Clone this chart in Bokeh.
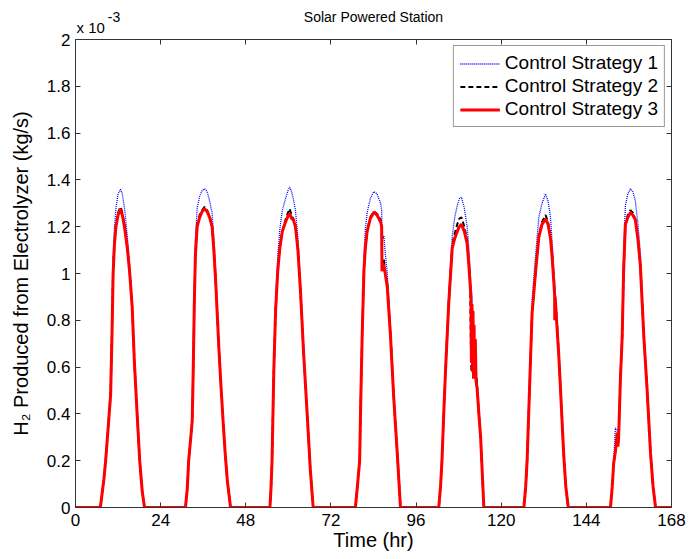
from bokeh.plotting import figure
from bokeh.models import (ColumnDataSource, LinearAxis, FixedTicker, Title,
                          Legend, LegendItem, Range1d)
from bokeh.embed import file_html
from bokeh.resources import INLINE

# ---------------- data (values in units of 1e-3 kg/s) ----------------
time_hr = [0,
    7.0, 8.0, 8.5, 9.3, 9.9, 10.3, 10.6, 11.0, 11.4, 12.0, 12.7, 13.2, 13.9, 14.6, 15.3, 16.0, 16.6, 17.3, 18.1, 18.8, 19.45,
    31.0, 31.5, 31.9, 32.5, 32.9, 33.2, 33.5, 33.8, 34.3, 35.0, 35.7, 36.4, 37.1, 37.8, 38.5, 39.0, 39.5, 40.4, 41.0, 41.6, 42.2, 42.8, 43.7,
    54.8, 55.1, 55.4, 55.9, 56.4, 57.0, 57.6, 58.3, 59.2, 59.9, 60.4, 60.9, 61.4, 62.0, 62.7, 63.4, 64.3, 65.3, 66.2, 67.0,
    78.9, 79.4, 80.1, 80.4, 80.8, 81.3, 81.7, 82.2, 83.1, 84.1, 85.0, 86.0, 86.3, 86.4, 86.9, 87.3, 87.9, 88.8, 89.7, 90.7, 91.6,
    102.4, 102.9, 103.3, 103.8, 104.3, 105.2, 106.2, 106.9, 107.6, 108.2, 108.8, 109.6, 110.4, 110.9, 111.3, 111.45, 111.6, 111.75, 111.9, 112.05, 112.2, 112.35, 112.5, 112.7, 112.9, 113.2, 113.7, 114.2, 115.1,
    126.4, 126.9, 127.3, 127.7, 128.1, 128.7, 129.7, 130.6, 131.5, 132.5, 133.2, 133.9, 134.4, 134.8, 135.05, 135.1, 135.2, 135.6, 136.2, 136.7, 137.6, 138.2, 138.9,
    150.8, 151.3, 151.7, 152.2, 152.7, 152.9, 153.1, 153.6, 154.1, 154.5, 155.0, 155.7, 156.4, 157.1, 157.8, 158.5, 159.2, 160.2, 161.1, 162.1, 162.8, 163.5,
    168]

strategy1 = [0,
    0, .13, .21, .38, .52, .80, 1.07, 1.20, 1.28, 1.34, 1.36, 1.34, 1.27, 1.16, 1.03, .87, .63, .43, .21, .07, 0,
    0, .08, .21, .31, .39, .64, .93, 1.15, 1.28, 1.33, 1.355, 1.362, 1.35, 1.31, 1.26, 1.15, 1.01, .70, .53, .38, .23, .115, 0,
    0, .08, .21, .60, .88, 1.07, 1.19, 1.27, 1.32, 1.355, 1.369, 1.35, 1.32, 1.27, 1.15, .96, .67, .41, .16, 0,
    0, .08, .21, .47, .77, 1.07, 1.19, 1.26, 1.32, 1.35, 1.34, 1.30, 1.27, 1.14, 1.16, 1.09, 1.00, .77, .49, .24, 0,
    0, .09, .21, .42, .61, .91, 1.16, 1.24, 1.29, 1.32, 1.326, 1.28, 1.20, 1.10, 1.00, .95, .93, .90, .85, .80, .75, .70, .66, .62, .58, .53, .41, .30, 0,
    0, .09, .21, .40, .59, .88, 1.08, 1.24, 1.30, 1.34, 1.31, 1.24, 1.12, 1.02, .97, .95, .93, .84, .68, .52, .23, .09, 0,
    0, .09, .20, .34, .33, .28, .31, .57, .77, 1.08, 1.29, 1.34, 1.362, 1.35, 1.31, 1.22, 1.09, .75, .52, .23, .09, 0,
    0]

strategy2 = [0,
    0, .12, .20, .36, .49, .76, 1.01, 1.14, 1.21, 1.26, 1.285, 1.26, 1.20, 1.11, 1.00, .85, .62, .42, .20, .07, 0,
    0, .08, .20, .30, .37, .60, .88, 1.08, 1.21, 1.25, 1.27, 1.285, 1.27, 1.245, 1.20, 1.10, .97, .685, .52, .37, .23, .115, 0,
    0, .08, .20, .585, .84, 1.01, 1.11, 1.18, 1.23, 1.26, 1.277, 1.245, 1.235, 1.20, 1.10, .93, .66, .40, .16, 0,
    0, .08, .20, .45, .73, 1.01, 1.11, 1.18, 1.24, 1.265, 1.255, 1.23, 1.21, 1.05, 1.06, 1.01, .95, .74, .47, .23, 0,
    0, .09, .20, .40, .585, .87, 1.12, 1.17, 1.21, 1.235, 1.24, 1.20, 1.14, 1.04, .95, .70, .58, .86, .81, .80, .72, .70, .66, .62, .58, .52, .40, .30, 0,
    0, .09, .20, .38, .56, .83, 1.01, 1.16, 1.22, 1.25, 1.22, 1.16, 1.07, .98, .92, .92, .88, .82, .66, .51, .23, .09, 0,
    0, .09, .19, .24, .30, .27, .30, .55, .73, 1.01, 1.21, 1.25, 1.27, 1.26, 1.23, 1.15, 1.04, .73, .51, .23, .09, 0,
    0]

strategy3 = [0,
    0, .12, .20, .36, .48, .75, 1.00, 1.13, 1.20, 1.25, 1.275, 1.25, 1.19, 1.11, 1.00, .85, .62, .42, .20, .07, 0,
    0, .08, .20, .30, .37, .60, .88, 1.08, 1.20, 1.24, 1.265, 1.277, 1.265, 1.24, 1.20, 1.10, .97, .685, .52, .37, .23, .115, 0,
    0, .08, .20, .585, .84, 1.01, 1.11, 1.18, 1.22, 1.245, 1.255, 1.235, 1.23, 1.20, 1.10, .93, .66, .40, .16, 0,
    0, .08, .20, .45, .73, 1.01, 1.11, 1.18, 1.235, 1.262, 1.25, 1.22, 1.20, 1.01, 1.04, 1.00, .94, .73, .47, .23, 0,
    0, .09, .20, .40, .585, .87, 1.11, 1.15, 1.18, 1.20, 1.21, 1.18, 1.127, 1.03, .94, .90, .62, .87, .58, .84, .55, .78, .56, .72, .54, .51, .40, .30, 0,
    0, .09, .20, .38, .56, .83, 1.01, 1.155, 1.21, 1.234, 1.21, 1.15, 1.06, .97, .91, .80, .90, .80, .657, .51, .23, .09, 0,
    0, .09, .19, .24, .32, .26, .30, .55, .73, 1.01, 1.21, 1.24, 1.26, 1.25, 1.23, 1.15, 1.04, .73, .51, .23, .09, 0,
    0]

series_names = ["Control Strategy 1", "Control Strategy 2", "Control Strategy 3"]
x_ticks = [0, 24, 48, 72, 96, 120, 144, 168]
y_ticks = [0, 0.2, 0.4, 0.6, 0.8, 1.0, 1.2, 1.4, 1.6, 1.8, 2.0]
y_tick_labels = ["0", "0.2", "0.4", "0.6", "0.8", "1", "1.2", "1.4", "1.6", "1.8", "2"]
title_text = "Solar Powered Station"
x_label = "Time (hr)"
y_label = "H\u2082 Produced from Electrolyzer (kg/s)"
exponent_base = "x 10"
exponent_power = "-3"

# ---------------- figure ----------------
FONT = "Liberation Sans"
AX_COLOR = "#333333"

p = figure(width=689, height=559, output_backend="svg", toolbar_location=None,
           x_range=Range1d(0, 168), y_range=Range1d(0, 2),
           min_border_left=75, min_border_right=18, min_border_top=39, min_border_bottom=52,
           x_axis_type=None, y_axis_type=None)
p.title_location = None
p.outline_line_color = None
p.background_fill_color = "white"
p.border_fill_color = "white"

src = ColumnDataSource(dict(t=time_hr, s1=strategy1, s2=strategy2, s3=strategy3))

r1 = p.line("t", "s1", source=src, line_color="#0000ff", line_width=1.3, line_dash="1 1")
r2 = p.line("t", "s2", source=src, line_color="black", line_width=2, line_dash="5 3")
r3 = p.line("t", "s3", source=src, line_color="#ff0000", line_width=3)

label_over = {v: s for v, s in zip(y_ticks, y_tick_labels)}


def style_axis(ax, show_labels):
    ax.axis_line_color = AX_COLOR
    ax.axis_line_width = 1
    ax.major_tick_line_color = AX_COLOR
    ax.major_tick_in = 5
    ax.major_tick_out = 0
    ax.minor_tick_line_color = None
    ax.major_label_text_font = FONT
    if show_labels:
        ax.major_label_text_font_size = "17px"
        ax.major_label_text_color = "black"
    else:
        ax.major_label_text_font_size = "1px"
        ax.major_label_text_color = None
        ax.major_label_standoff = 0


xb = LinearAxis(ticker=FixedTicker(ticks=x_ticks))
style_axis(xb, True)
xb.major_label_standoff = 6
xb.axis_label = x_label
xb.axis_label_text_font = FONT
xb.axis_label_text_font_size = "20px"
xb.axis_label_text_font_style = "normal"
xb.axis_label_text_color = "black"
xb.axis_label_standoff = 0
p.add_layout(xb, "below")

yl = LinearAxis(ticker=FixedTicker(ticks=y_ticks), major_label_overrides=label_over)
style_axis(yl, True)
yl.major_label_standoff = 5
yl.axis_label = y_label
yl.axis_label_text_font = FONT
yl.axis_label_text_font_size = "20px"
yl.axis_label_text_font_style = "normal"
yl.axis_label_text_color = "black"
yl.axis_label_standoff = 12
p.add_layout(yl, "left")

# box ticks on top and right
xt = LinearAxis(ticker=FixedTicker(ticks=x_ticks))
style_axis(xt, False)
p.add_layout(xt, "above")

yr = LinearAxis(ticker=FixedTicker(ticks=y_ticks))
style_axis(yr, False)
p.add_layout(yr, "right")

p.xgrid.ticker = FixedTicker(ticks=x_ticks)
p.ygrid.ticker = FixedTicker(ticks=y_ticks)
for g in (p.xgrid, p.ygrid):
    g.grid_line_color = "#a8a8a8"
    g.grid_line_dash = "1 3"
    g.grid_line_width = 1

# "x 10" multiplier just above the frame
p.add_layout(Title(text=exponent_base, align="left", offset=1, standoff=7,
                   text_font=FONT, text_font_size="15px", text_font_style="normal",
                   text_color="black"), "above")

# row holding the exponent "-3" and the chart title
title_pos = [10.85, 84]
top_row = LinearAxis(ticker=FixedTicker(ticks=title_pos),
                     major_label_overrides={title_pos[0]: exponent_power,
                                            title_pos[1]: title_text})
top_row.axis_line_color = None
top_row.major_tick_line_color = None
top_row.minor_tick_line_color = None
top_row.major_label_standoff = -17
top_row.major_label_text_font = FONT
top_row.major_label_text_font_size = "14px"
top_row.major_label_text_color = "black"
p.add_layout(top_row, "above")

legend = Legend(items=[LegendItem(label=series_names[0], renderers=[r1]),
                       LegendItem(label=series_names[1], renderers=[r2]),
                       LegendItem(label=series_names[2], renderers=[r3])],
                location="top_right")
legend.label_text_font = FONT
legend.label_text_font_size = "19px"
legend.label_text_color = "black"
legend.glyph_width = 40
legend.glyph_height = 21
legend.label_height = 21
legend.label_standoff = 5
legend.spacing = 1
legend.padding = 6
legend.margin = 6
legend.border_line_color = "#333333"
legend.border_line_width = 1
legend.background_fill_color = "white"
legend.background_fill_alpha = 1
p.add_layout(legend, "center")

open("out.html", "w").write(file_html(p, INLINE))
